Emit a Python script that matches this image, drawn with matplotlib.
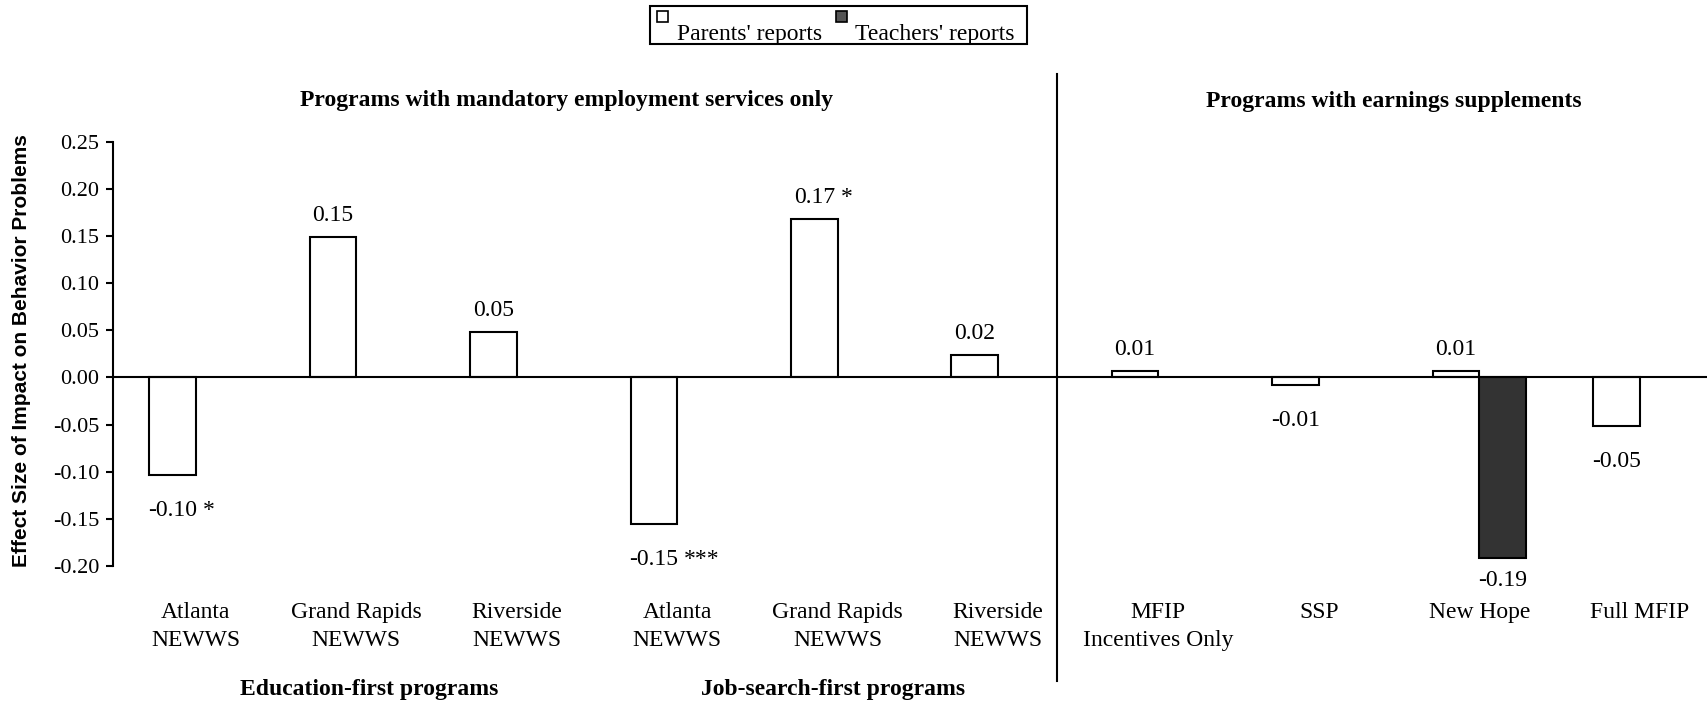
import matplotlib.pyplot as plt
from matplotlib.lines import Line2D
from matplotlib.patches import Rectangle
import numpy as np

plt.rcParams['font.family'] = ['Liberation Serif', 'DejaVu Serif']

# data
programs = ["Atlanta\nNEWWS", "Grand Rapids\nNEWWS", "Riverside\nNEWWS",
            "Atlanta\nNEWWS", "Grand Rapids\nNEWWS", "Riverside\nNEWWS",
            "MFIP\nIncentives Only", "SSP", "New Hope", "Full MFIP"]
parents = [-0.104, 0.149, 0.048, -0.155, 0.168, 0.024, 0.007, -0.008, 0.007, -0.051]
parents_lbl = ["-0.10", "0.15", "0.05", "-0.15", "0.17", "0.02", "0.01", "-0.01", "0.01", "-0.05"]
parents_sig = ["*", "", "", "***", "*", "", "", "", "", ""]
teachers = [np.nan] * 8 + [-0.192, np.nan]
teachers_lbl = [""] * 8 + ["-0.19", ""]
yticks = [0.25, 0.20, 0.15, 0.10, 0.05, 0.00, -0.05, -0.10, -0.15, -0.20]
series = ["Parents' reports", "Teachers' reports"]

FS = 17
W = 0.29
FW, FH = 1707, 702

fig = plt.figure(figsize=(17.07, 7.02), dpi=100)
ax = fig.add_axes([113 / FW, (FH - 566) / FH, (FW - 113) / FW, 424.3 / FH])

x = np.arange(len(programs))
ax.bar(x - W / 2, parents, W, color="white", edgecolor="black", linewidth=1.5)
ax.bar(x + W / 2, teachers, W, color="#333333", edgecolor="black", linewidth=1.5)

ax.set_xlim(-0.517, 9.42)
ax.set_ylim(-0.2, 0.25)
ax.axhline(0, color="black", lw=1.5, zorder=3)

for s in ["top", "right", "bottom"]:
    ax.spines[s].set_visible(False)
ax.spines["left"].set_linewidth(1.5)
ax.set_yticks(yticks)
ax.set_yticklabels(["%.2f" % t for t in yticks])
ax.tick_params(axis="y", length=5, width=1.5, pad=5, labelsize=16)
ax.set_xticks(x)
ax.set_xticklabels(programs)
ax.tick_params(axis="x", length=0, pad=26, labelsize=FS)
for t in ax.get_xticklabels():
    t.set_linespacing(1.4)

# value labels
for i, (v, lb, sg) in enumerate(zip(parents, parents_lbl, parents_sig)):
    if v >= 0:
        t = ax.annotate(lb, (x[i] - W / 2, v), xytext=(0, 8), textcoords="offset points",
                        ha="center", va="bottom", fontsize=FS)
    else:
        t = ax.annotate(lb, (x[i] - W / 2, v), xytext=(0, -18), textcoords="offset points",
                        ha="center", va="top", fontsize=FS)
    if sg:
        ax.annotate(sg, xy=(1, 0), xycoords=t, xytext=(4, 0), textcoords="offset points",
                    ha="left", va="bottom", fontsize=FS)
for i, (v, lb) in enumerate(zip(teachers, teachers_lbl)):
    if lb:
        ax.annotate(lb, (x[i] + W / 2, v), xytext=(0, -8), textcoords="offset points",
                    ha="center", va="top", fontsize=FS)

# group headings
tr = ax.get_xaxis_transform()
ax.text(2.31, 1.098, "Programs with mandatory employment services only", transform=tr,
        ha="center", va="center", fontsize=FS, fontweight="bold")
ax.text(7.47, 1.094, "Programs with earnings supplements", transform=tr,
        ha="center", va="center", fontsize=FS, fontweight="bold")
ax.text(1.08, -0.292, "Education-first programs", transform=tr,
        ha="center", va="center", fontsize=FS, fontweight="bold")
ax.text(3.97, -0.292, "Job-search-first programs", transform=tr,
        ha="center", va="center", fontsize=FS, fontweight="bold")

# divider between the two program types
fig.add_artist(Line2D([1056.7 / FW] * 2, [(FH - 74) / FH, (FH - 681) / FH],
                      color="black", lw=1.5))

fig.text(22 / FW, 0.5, "Effect Size of Impact on Behavior Problems", rotation=90,
         ha="center", va="center", fontsize=15, fontweight="bold",
         family=["Liberation Sans", "DejaVu Sans"])

# legend box drawn by hand: small squares sit high, text sits low
fig.add_artist(Rectangle((650 / FW, (FH - 43.5) / FH), 377 / FW, 38 / FH,
                         transform=fig.transFigure, facecolor="white",
                         edgecolor="black", lw=1.5))
for (sx, tx), name, fc in zip([(657, 677), (836, 855)], series, ["white", "#555555"]):
    fig.add_artist(Rectangle((sx / FW, (FH - 22) / FH), 11 / FW, 11 / FH,
                             transform=fig.transFigure, facecolor=fc,
                             edgecolor="black", lw=1.2))
    fig.text(tx / FW, (FH - 40) / FH, name, ha="left", va="baseline", fontsize=FS)

fig.savefig("out.png", dpi=100)
